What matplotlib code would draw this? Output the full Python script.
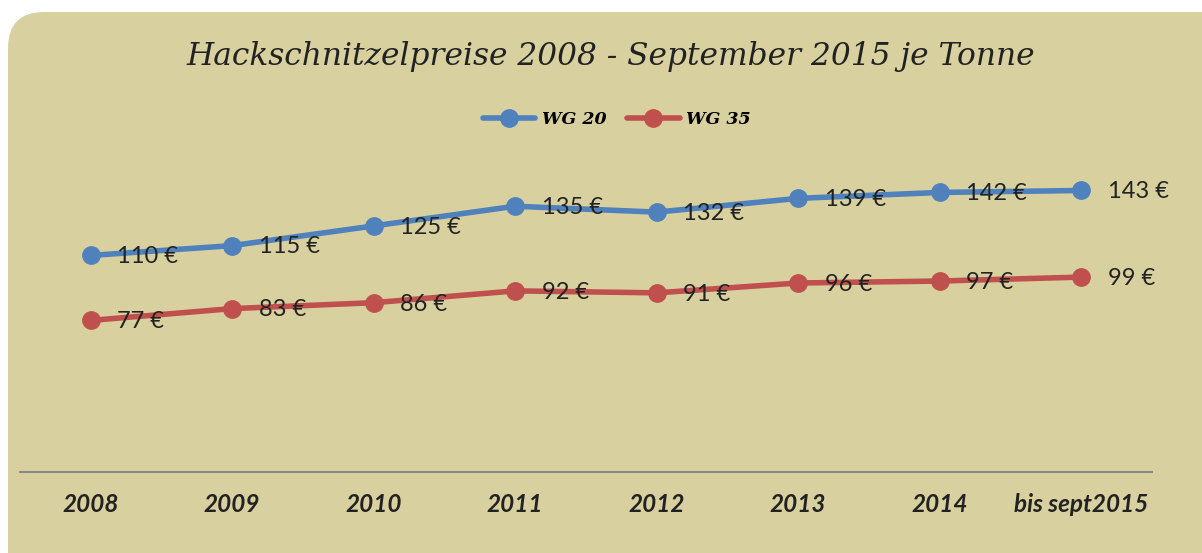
import matplotlib
matplotlib.use('Agg')
import matplotlib.pyplot as plt
from matplotlib.patches import FancyBboxPatch

# Daten
jahre = ['2008', '2009', '2010', '2011', '2012', '2013', '2014', 'bis sept2015']
wg20 = [110, 115, 125, 135, 132, 139, 142, 143]
wg35 = [77, 83, 86, 92, 91, 96, 97, 99]

BG = '#d8d19f'
BLAU = '#4f81bd'
ROT = '#c0504d'

W, H = 1202, 553
fig = plt.figure(figsize=(W / 100, H / 100), dpi=100)
fig.patch.set_facecolor('white')

# abgerundeter Hintergrund (rechts und unten abgeschnitten)
panel = FancyBboxPatch((8 / W, -40 / H), (W + 40) / W, (H + 40 - 12) / H,
                       boxstyle='round,pad=0,rounding_size=0.03',
                       transform=fig.transFigure, facecolor=BG, edgecolor='none',
                       mutation_aspect=W / H, zorder=-10)
fig.patches.append(panel)

# Achse: 0 bei y=472px, 160 bei y=157px
ax = fig.add_axes([20 / W, (H - 472) / H, (1152 - 20) / W, (472 - 157) / H], zorder=5)
ax.set_facecolor('none')
x = list(range(len(jahre)))
l1, = ax.plot(x, wg20, color=BLAU, lw=4, marker='o', ms=12.5, label='WG 20', solid_capstyle='round')
l2, = ax.plot(x, wg35, color=ROT, lw=4, marker='o', ms=12.5, label='WG 35', solid_capstyle='round')

for serie in (wg20, wg35):
    for xi, v in zip(x, serie):
        ax.annotate(f'{v} €', (xi, v), xytext=(19, -1), textcoords='offset points',
                    ha='left', va='center', fontsize=17, family='Lato', color='#222222')

ax.set_xlim(-0.5, len(jahre) - 0.5)
ax.set_ylim(0, 160)
ax.set_yticks([])
ax.set_xticks(x)
ax.set_xticklabels(jahre, fontsize=17.5, family='Lato', fontweight='bold', style='italic', color='#222222')
ax.tick_params(axis='x', length=0, pad=15)
for s in ['top', 'left', 'right']:
    ax.spines[s].set_visible(False)
ax.spines['bottom'].set_color('#8a8a8a')
ax.spines['bottom'].set_linewidth(1.5)

fig.text(611 / W, 1 - 56 / H, 'Hackschnitzelpreise 2008 - September 2015 je Tonne',
         ha='center', va='center', fontsize=22.5, family='DejaVu Serif', style='italic',
         color='#222222')

leg = fig.legend(handles=[l1, l2], loc='center', bbox_to_anchor=(617 / W, 1 - 120 / H), ncol=2,
                 frameon=False, handlelength=3.0, columnspacing=1.2, handletextpad=0.4,
                 prop={'family': 'DejaVu Serif', 'style': 'italic', 'weight': 'bold', 'size': 12.5})

fig.savefig('out.png', dpi=100, facecolor='white')
